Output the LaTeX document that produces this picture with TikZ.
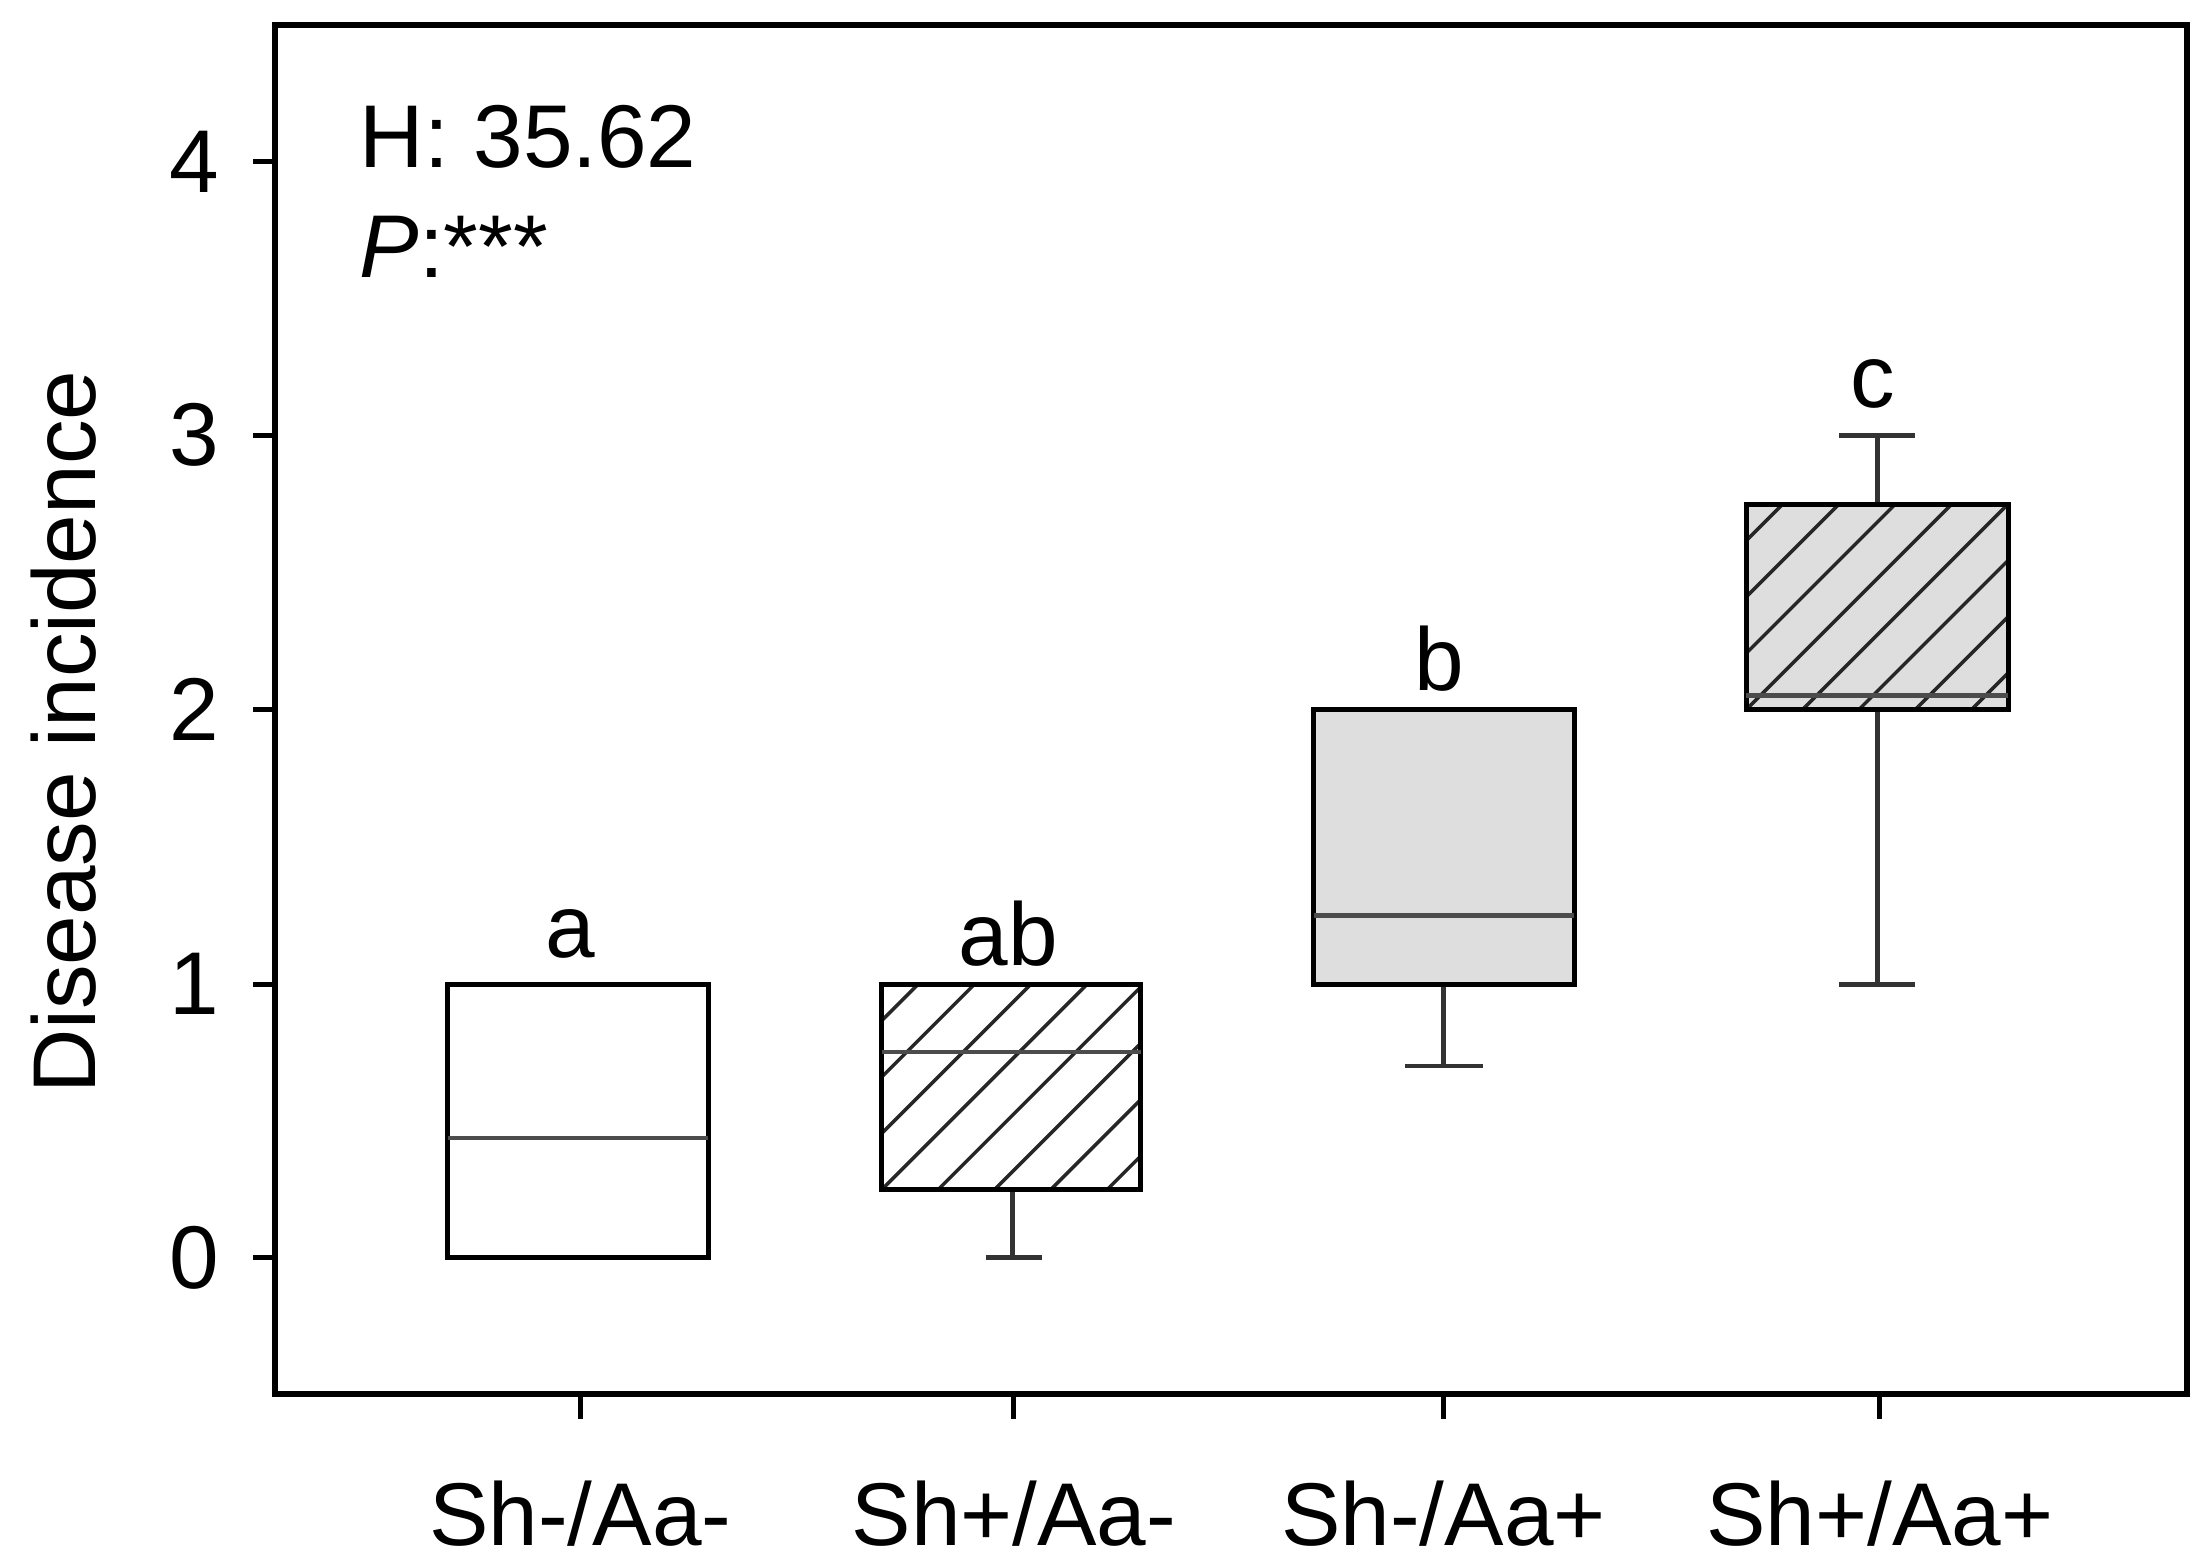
\documentclass[tikz,border=0pt]{standalone}
\usepackage{fontspec}
\setmainfont{Liberation Sans}
\begin{document}
\begin{tikzpicture}[x=0.01cm,y=-0.01cm,
  bx/.style={draw=black,line width=1pt},
  med/.style={draw=black!70,line width=0.9pt},
  wh/.style={draw=black!80,line width=1pt},
  hatch/.style={draw=black!85,line width=0.7pt},
  lab/.style={font=\fontsize{18pt}{20pt}\selectfont}]
\useasboundingbox (0,0) rectangle (1568,1109);
\draw[line width=1.2pt] (195,18) rectangle (1553,990);
% y ticks
\foreach \v/\y in {0/893,1/699,2/504,3/309,4/115}{
  \draw[line width=1pt] (180,\y) -- (195,\y);
  \node[lab,anchor=east] (yt\v) at (168,\y) {\v};}
% x ticks and labels
\foreach \x/\t [count=\i] in {412/{Sh-/Aa-},720/{Sh+/Aa-},1025/{Sh-/Aa+},1335/{Sh+/Aa+}}{
  \draw[line width=1pt] (\x,990) -- (\x,1008);
  \node[lab] (xl\i) at (\x,1075) {\t};}
\node[lab,rotate=90] (ylab) at (45,520) {Disease incidence};
\node[lab,anchor=west] (H) at (243,97) {H: 35.62};
\node[lab,anchor=west] (P) at (243,175) {\textit{P}:***};
% box 1
\draw[bx,fill=white] (318,893) rectangle (503,699);
\draw[med] (318,808) -- (503,808);
\node[lab] (a) at (405,663) {a};
% box 2
\draw[wh] (719,845) -- (719,893); \draw[wh] (700,893) -- (740,893);
\draw[bx,fill=white] (626,845) rectangle (810,699);
\begin{scope}\clip (626,845) rectangle (810,699);
\foreach \i in {-6,...,6}{\draw[hatch] (626+\i*40,845) -- ++(200,-200);}
\end{scope}
\draw[bx] (626,845) rectangle (810,699);
\draw[med] (626,747) -- (810,747);
\node[lab] (ab) at (716,663) {ab};
% box 3
\draw[wh] (1025,699) -- (1025,757); \draw[wh] (998,757) -- (1053,757);
\draw[bx,fill=black!13] (933,699) rectangle (1118,504);
\draw[med] (933,650) -- (1118,650);
\node[lab] (b) at (1022,468) {b};
% box 4
\draw[wh] (1333,504) -- (1333,699); \draw[wh] (1306,699) -- (1360,699);
\draw[wh] (1333,358) -- (1333,309); \draw[wh] (1306,309) -- (1360,309);
\draw[bx,fill=black!13] (1240,504) rectangle (1426,358);
\begin{scope}\clip (1240,504) rectangle (1426,358);
\foreach \i in {-6,...,6}{\draw[hatch] (1240+\i*40,504) -- ++(200,-200);}
\end{scope}
\draw[bx] (1240,504) rectangle (1426,358);
\draw[med] (1240,494) -- (1426,494);
\node[lab] (c) at (1330,273) {c};
\end{tikzpicture}
\end{document}
